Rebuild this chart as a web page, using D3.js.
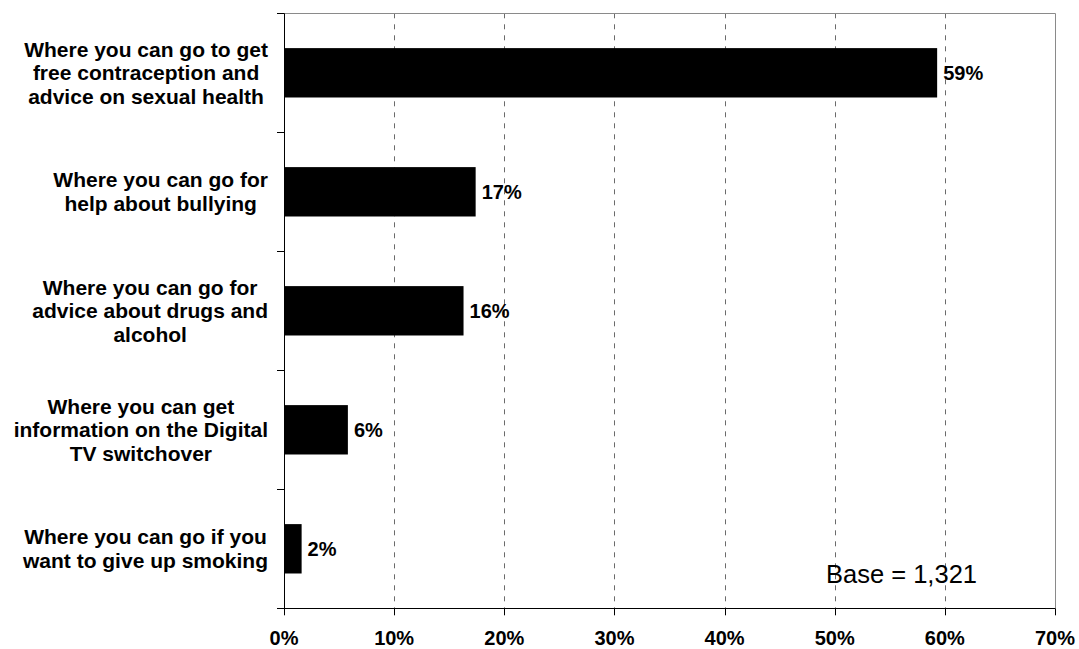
<!DOCTYPE html>
<html>
<head>
<meta charset="utf-8">
<script src="https://cdn.jsdelivr.net/npm/d3@7"></script>
<style>
  html, body { margin: 0; padding: 0; background: #fff; }
  svg { display: block; }
  text { font-family: "Liberation Sans", Arial, sans-serif; fill: #000; }
</style>
</head>
<body>
<svg id="chart" width="1079" height="649"></svg>
<script>
// Survey results: where respondents would look for information
const categories = [
  "Where you can go to get free contraception and advice on sexual health",
  "Where you can go for help about bullying",
  "Where you can go for advice about drugs and alcohol",
  "Where you can get information on the Digital TV switchover",
  "Where you can go if you want to give up smoking"
];
const labelLines = [
  ["Where you can go to get", "free contraception and", "advice on sexual health"],
  ["Where you can go for", "help about bullying"],
  ["Where you can go for", "advice about drugs and", "alcohol"],
  ["Where you can get", "information on the Digital", "TV switchover"],
  ["Where you can go if you", "want to give up smoking"]
];
const values = [59.3, 17.4, 16.3, 5.8, 1.6];
const xTicks = [0, 10, 20, 30, 40, 50, 60, 70];
const baseNote = "Base = 1,321";

const svg = d3.select("#chart");
const plot = { left: 284, right: 1055, top: 13.3, bottom: 608.3 };

const x = d3.scaleLinear().domain([0, 70]).range([plot.left, plot.right]);
const pad = 0.585;
const y = d3.scaleBand()
  .domain(categories)
  .range([plot.top, plot.bottom])
  .paddingInner(pad)
  .paddingOuter(pad / 2);

// dashed vertical gridlines
svg.append("g")
  .selectAll("line")
  .data(xTicks.filter(t => t > 0 && t < 70))
  .join("line")
  .attr("x1", d => Math.round(x(d)) + 0.5)
  .attr("x2", d => Math.round(x(d)) + 0.5)
  .attr("y1", plot.top)
  .attr("y2", plot.bottom)
  .attr("stroke", "#6b6b6b")
  .attr("stroke-width", 1)
  .attr("stroke-dasharray", "5,6");

// top and right frame
svg.append("path")
  .attr("d", `M${plot.left - 7},${Math.round(plot.top) + 0.5}H${Math.round(plot.right) + 0.5}V${plot.bottom}`)
  .attr("fill", "none")
  .attr("stroke", "#8a8a8a")
  .attr("stroke-width", 1);

// bars
svg.append("g")
  .selectAll("rect")
  .data(values)
  .join("rect")
  .attr("x", x(0))
  .attr("y", (d, i) => y(categories[i]))
  .attr("width", d => x(d) - x(0))
  .attr("height", y.bandwidth())
  .attr("fill", "#000");

// value labels
svg.append("g")
  .selectAll("text")
  .data(values)
  .join("text")
  .attr("x", d => x(d) + 6)
  .attr("y", (d, i) => y(categories[i]) + y.bandwidth() / 2)
  .attr("dy", "0.35em")
  .attr("font-size", 20)
  .attr("font-weight", "bold")
  .text(d => Math.round(d) + "%");

// category axis: line plus ticks at slot boundaries
const yAxis = svg.append("g");
yAxis.append("line")
  .attr("x1", plot.left + 0.5).attr("x2", plot.left + 0.5)
  .attr("y1", plot.top).attr("y2", plot.bottom)
  .attr("stroke", "#000");
yAxis.selectAll("line.tick")
  .data(d3.range(categories.length + 1))
  .join("line")
  .attr("class", "tick")
  .attr("x1", plot.left - 7).attr("x2", plot.left)
  .attr("y1", i => Math.round(plot.top + i * y.step()) + 0.5)
  .attr("y2", i => Math.round(plot.top + i * y.step()) + 0.5)
  .attr("stroke", "#000");

// category labels: wrapped lines centred inside a block aligned to the axis
const lineH = 23.5;
const labelRight = 268;
categories.forEach((c, i) => {
  const lines = labelLines[i];
  const cy = y(c) + y.bandwidth() / 2;
  const g = svg.append("g");
  const texts = g.selectAll("text")
    .data(lines)
    .join("text")
    .attr("font-size", 21)
    .attr("font-weight", "bold")
    .attr("text-anchor", "middle")
    .attr("y", (d, j) => cy + (j - (lines.length - 1) / 2) * lineH)
    .attr("dy", "0.35em")
    .text(d => d);
  const maxW = d3.max(texts.nodes(), n => n.getComputedTextLength());
  texts.attr("x", labelRight - maxW / 2);
});

// value axis
const xAxis = svg.append("g");
xAxis.append("line")
  .attr("x1", plot.left - 7).attr("x2", plot.right)
  .attr("y1", Math.round(plot.bottom) + 0.5).attr("y2", Math.round(plot.bottom) + 0.5)
  .attr("stroke", "#000");
xAxis.selectAll("line.tick")
  .data(xTicks)
  .join("line")
  .attr("class", "tick")
  .attr("x1", d => Math.round(x(d)) + 0.5).attr("x2", d => Math.round(x(d)) + 0.5)
  .attr("y1", plot.bottom).attr("y2", plot.bottom + 7)
  .attr("stroke", "#000");
xAxis.selectAll("text")
  .data(xTicks)
  .join("text")
  .attr("x", d => x(d))
  .attr("y", 645)
  .attr("text-anchor", "middle")
  .attr("font-size", 20)
  .attr("font-weight", "bold")
  .text(d => d + "%");

// base size note
svg.append("text")
  .attr("x", 826)
  .attr("y", 582.5)
  .attr("font-size", 25.5)
  .text(baseNote);
</script>
</body>
</html>
